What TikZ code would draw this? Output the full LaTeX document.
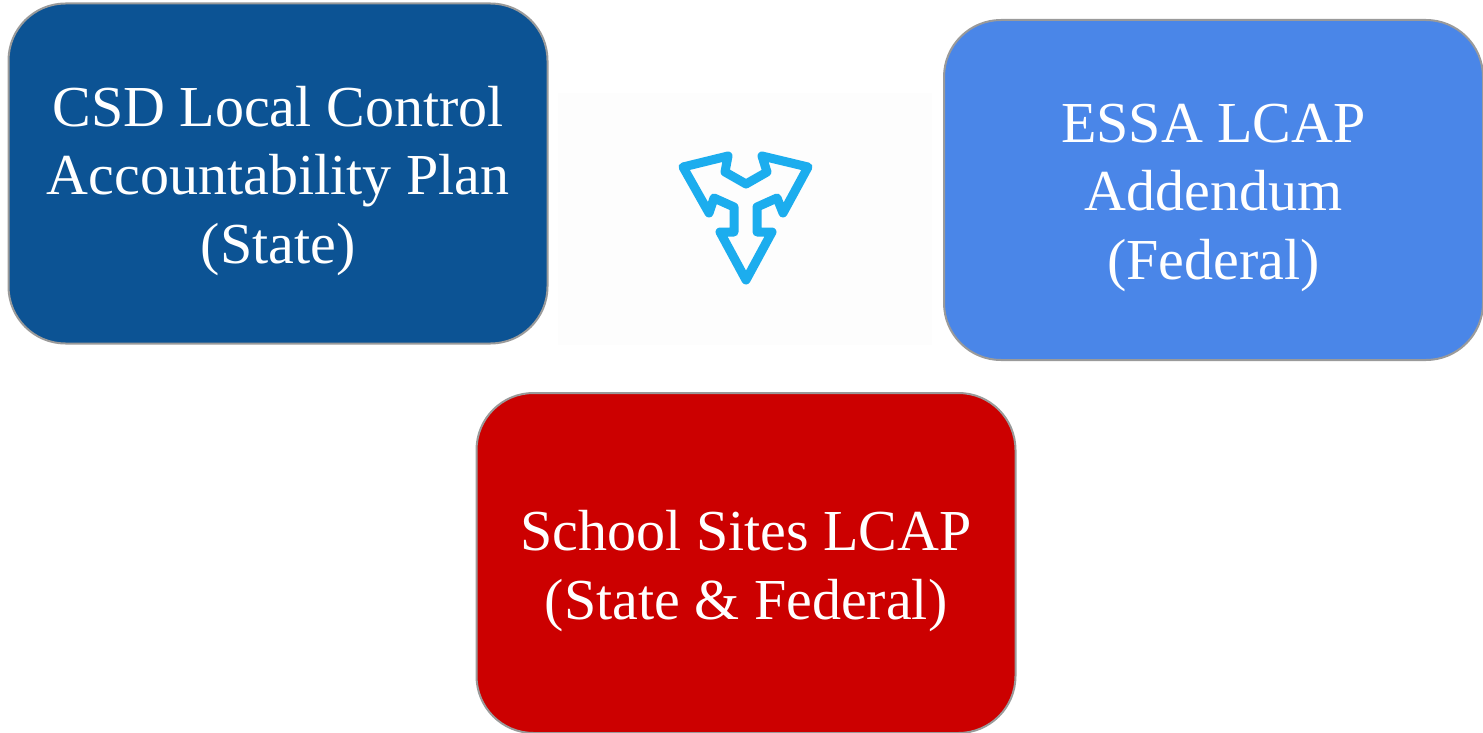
\documentclass[tikz,border=0pt]{standalone}
\usepackage{fontspec}
\setmainfont{Liberation Serif}
\definecolor{navybox}{HTML}{0C5394}
\definecolor{bluebox}{HTML}{4A86E8}
\definecolor{redbox}{HTML}{CC0000}
\definecolor{edgegray}{HTML}{9A9A9A}
\definecolor{arrowblue}{HTML}{1CADEE}
\definecolor{panelwhite}{HTML}{FDFDFD}
\tikzset{
  planbox/.style={draw=edgegray,line width=2pt,rounded corners=57pt,minimum width=539pt,minimum height=340pt,inner sep=0pt},
  plantext/.style={inner sep=0pt,text=white,align=center,font=\fontsize{58}{68.5}\selectfont},
  arrowline/.style={draw=arrowblue,line width=9pt,line join=round,line cap=round}
}
\begin{document}
\begin{tikzpicture}[x=1pt,y=-1pt]
\useasboundingbox (0,0) rectangle (1483,733);
\node[fill=panelwhite,minimum width=374pt,minimum height=252pt,inner sep=0pt] (panel) at (745,219) {};
\node[planbox,fill=navybox] (state) at (278,173.5) {};
\node[planbox,fill=bluebox] (essa) at (1213.5,190) {};
\node[planbox,fill=redbox] (sites) at (746,563) {};
\node[plantext] (statelabel) at (278,181) {CSD Local Control\\Accountability Plan\\(State)};
\node[plantext] (essalabel) at (1213.5,197.5) {ESSA LCAP\\Addendum\\(Federal)};
\node[plantext] (siteslabel) at (746,571) {School Sites LCAP\\(State \& Federal)};
\draw[arrowline] (728,156) -- (683,167) -- (709,213) -- (714,198) -- (734,207) -- (734,232) -- (720,232)
  -- (746,280) -- (772,232) -- (757,232) -- (757,207) -- (777,198) -- (783,213) -- (808,167) -- (762,156)
  -- (767,172) -- (746,184) -- (725,172) -- cycle;
\end{tikzpicture}
\end{document}
